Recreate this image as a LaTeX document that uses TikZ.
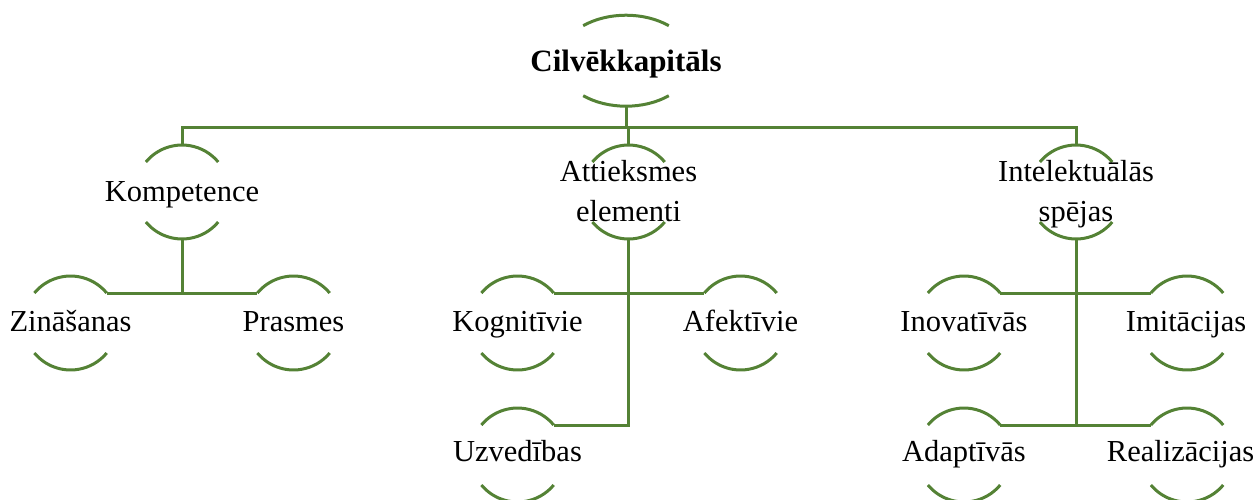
\documentclass[tikz,border=0pt]{standalone}
\usepackage{fontspec}
\setmainfont{Liberation Serif}
\usetikzlibrary{calc}
\definecolor{lineGreen}{HTML}{548235}
\begin{document}
\begin{tikzpicture}[x=1pt,y=-1pt,
  conn/.style={draw=lineGreen,line width=3pt},
  arcline/.style={draw=lineGreen,line width=3pt},
  lbl/.style={inner sep=0pt,anchor=base,font=\fontsize{30.5}{40}\selectfont,text=black,align=center},
  toplbl/.style={lbl,font=\fontsize{31}{40}\selectfont\bfseries}]
\useasboundingbox (0,0) rectangle (1257,499);
% circle node: #1 name, #2 cx, #3 cy
\newcommand{\circnode}[3]{%
  \coordinate (#1) at (#2,#3);
  \coordinate (#1-n) at (#2,#3-47);
  \coordinate (#1-s) at (#2,#3+47);
  \coordinate (#1-nw) at (#2-36.1,#3-30);
  \coordinate (#1-ne) at (#2+36.1,#3-30);
  \coordinate (#1-sw) at (#2-36.1,#3+30);
  \draw[arcline] (#1-nw) arc[start angle=219.7,end angle=320.3,radius=47];
  \draw[arcline] (#1-sw) arc[start angle=140.3,end angle=39.7,radius=47];
}
% top node
\coordinate (top) at (626,60.7);
\coordinate (top-s) at (626,106.2);
\draw[arcline] (583.2,25.7) arc[start angle=230.3,end angle=309.7,x radius=67,y radius=45.5];
\draw[arcline] (583.2,95.7) arc[start angle=129.7,end angle=50.3,x radius=67,y radius=45.5];
\node[toplbl] (topt) at (626,71) {Cilvēkkapitāls};

% level 2
\circnode{komp}{182}{192}
\circnode{att}{628.5}{192}
\circnode{int}{1076}{192}
\node[lbl] (kompt) at (182,201.7) {Kompetence};
\node[lbl] (attt) at (628.5,221.7) {Attieksmes\\elementi};
\node[lbl] (intt) at (1076,221.7) {Intelektuālās\\spējas};

% level 3
\circnode{zin}{70.5}{323}
\circnode{pras}{293.5}{323}
\circnode{kogn}{517.5}{323}
\circnode{afek}{740.5}{323}
\circnode{uzv}{517.5}{455}
\circnode{inov}{964}{323}
\circnode{imit}{1187}{323}
\circnode{adap}{964}{455}
\circnode{real}{1187}{455}
\node[lbl] (zint) at (70.5,331.7) {Zināšanas};
\node[lbl] (prast) at (293.5,331.7) {Prasmes};
\node[lbl] (kognt) at (517.5,331.7) {Kognitīvie};
\node[lbl] (afekt) at (740.5,331.7) {Afektīvie};
\node[lbl] (uzvt) at (517.5,461.7) {Uzvedības};
\node[lbl] (inovt) at (964,331.7) {Inovatīvās};
\node[lbl] (imitt) at (1186,331.7) {Imitācijas};
\node[lbl] (adapt) at (964,461.7) {Adaptīvās};
\node[lbl,anchor=base east] (realt) at (1254.5,461.7) {Realizācijas};

% connectors
\coordinate (bus1) at (626,127);
\draw[conn] (top-s) -- (bus1);
\draw[conn] (komp-n) |- (bus1) -| (int-n);
\draw[conn] (att-n) -- (att-n |- bus1);

\draw[conn] (komp-s) -- (komp-s |- zin-ne);
\draw[conn] (zin-ne) -- (pras-nw);

\draw[conn] (att-s) |- (uzv-ne);
\draw[conn] (kogn-ne) -- (afek-nw);

\draw[conn] (int-s) -- (int-s |- adap-ne);
\draw[conn] (inov-ne) -- (imit-nw);
\draw[conn] (adap-ne) -- (real-nw);
\end{tikzpicture}
\end{document}
